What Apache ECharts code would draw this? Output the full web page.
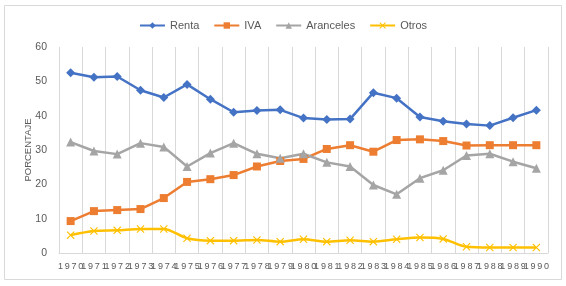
<!DOCTYPE html>
<html>
<head>
<meta charset="utf-8">
<script src="https://cdn.jsdelivr.net/npm/echarts@6/dist/echarts.min.js"></script>
<style>
  html, body { margin: 0; padding: 0; background: #fff; }
  #chart { width: 566px; height: 286px; }
</style>
</head>
<body>
<div id="chart"></div>
<script>
// chart data
var years = ['1970', '1971', '1972', '1973', '1974', '1975', '1976', '1977', '1978', '1979', '1980',
  '1981', '1982', '1983', '1984', '1985', '1986', '1987', '1988', '1989', '1990'];
var renta = [52.5, 51.2, 51.4, 47.4, 45.3, 49.1, 44.8, 41.0, 41.5, 41.7, 39.3, 38.9, 39.0, 46.7, 45.1, 39.6, 38.4, 37.6, 37.1, 39.4, 41.6];
var iva = [9.3, 12.2, 12.5, 12.8, 16.0, 20.7, 21.5, 22.7, 25.2, 26.8, 27.4, 30.3, 31.4, 29.5, 32.9, 33.1, 32.6, 31.3, 31.4, 31.4, 31.4];
var aranceles = [32.3, 29.7, 28.8, 32.0, 30.9, 25.2, 29.1, 32.0, 28.9, 27.6, 28.9, 26.4, 25.2, 19.8, 17.1, 21.8, 24.1, 28.4, 28.9, 26.6, 24.7];
var otros = [5.2, 6.4, 6.6, 7.0, 7.0, 4.3, 3.6, 3.6, 3.8, 3.3, 4.0, 3.3, 3.7, 3.3, 4.0, 4.5, 4.1, 1.8, 1.6, 1.6, 1.6];

var textColor = '#595959';
var fontFam = 'Liberation Sans, Arial, sans-serif';
// x marker drawn as a filled polygon
var crossPath = 'path://M1,0L5,4L9,0L10,1L6,5L10,9L9,10L5,6L1,10L0,9L4,5L0,1Z';

function lineSeries(name, values, color, symbol, size, smooth) {
  return {
    name: name,
    type: 'line',
    data: values,
    symbol: symbol,
    symbolSize: size,
    smooth: smooth,
    lineStyle: { color: color, width: 2.5 },
    itemStyle: { color: color },
    emphasis: { disabled: true }
  };
}

var chartDom = document.getElementById('chart');
var myChart = echarts.init(chartDom);
var option;

option = {
  animation: false,
  backgroundColor: '#fff',
  textStyle: { fontFamily: fontFam },
  graphic: [{
    type: 'rect',
    shape: { x: 4.5, y: 5.5, width: 557, height: 274 },
    style: { fill: 'none', stroke: '#d9d9d9', lineWidth: 1 },
    silent: true
  }],
  legend: {
    top: 15,
    left: 'center',
    itemWidth: 25,
    itemHeight: 8,
    itemGap: 14,
    textStyle: { color: textColor, fontSize: 11, fontFamily: fontFam },
    data: ['Renta', 'IVA', 'Aranceles', 'Otros']
  },
  grid: { left: 59, right: 18, top: 47, bottom: 33 },
  xAxis: {
    type: 'category',
    data: years,
    boundaryGap: true,
    axisLine: { lineStyle: { color: '#d9d9d9' } },
    axisTick: { show: false },
    splitLine: { show: true, lineStyle: { color: '#d9d9d9' } },
    axisLabel: {
      interval: 0,
      color: textColor,
      fontSize: 9,
      margin: 9,
      formatter: function (v) { return v.split('').join('\u2009'); }
    }
  },
  yAxis: {
    type: 'value',
    min: 0,
    max: 60,
    interval: 10,
    name: 'PORCENTAJE',
    nameLocation: 'middle',
    nameGap: 26,
    nameMoveOverlap: false,
    nameTextStyle: { color: textColor, fontSize: 9.5 },
    axisLine: { show: false },
    axisTick: { show: false },
    splitLine: { show: false },
    axisLabel: { color: textColor, fontSize: 10.5, margin: 12 }
  },
  series: [
    lineSeries('Renta', renta, '#4472C4', 'diamond', 9, false),
    lineSeries('IVA', iva, '#ED7D31', 'rect', 8, false),
    lineSeries('Aranceles', aranceles, '#A5A5A5', 'triangle', 9, false),
    lineSeries('Otros', otros, '#FFC000', crossPath, 8, 0.3)
  ]
};

option && myChart.setOption(option);
</script>
</body>
</html>
